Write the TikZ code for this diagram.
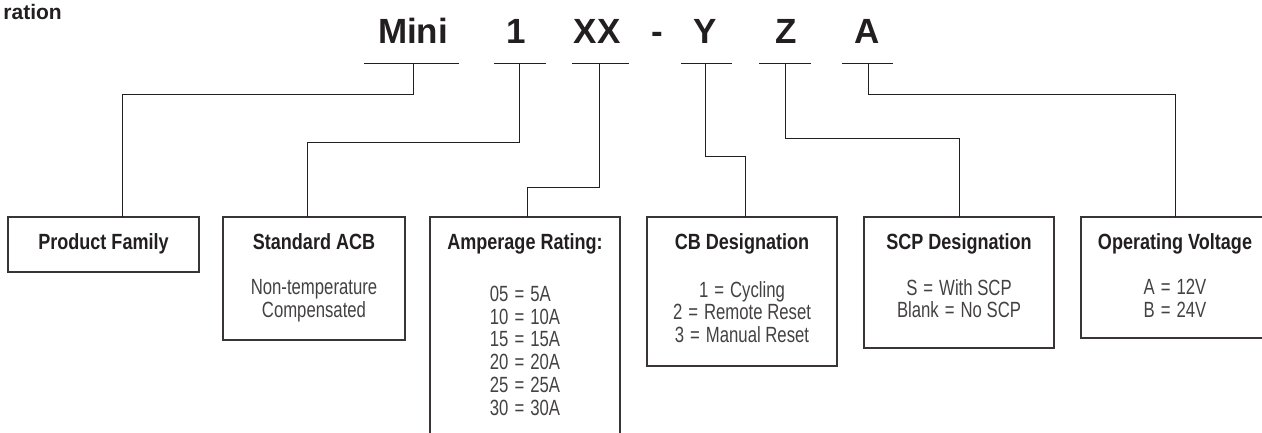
\documentclass[tikz,border=0pt]{standalone}
\usepackage{fontspec}
\setmainfont{Liberation Sans}
\newfontfamily\condfont[FakeStretch=0.76]{Liberation Sans}
\newfontfamily\condhead[FakeStretch=0.82]{Liberation Sans}
\usetikzlibrary{calc}
\definecolor{ink}{HTML}{231F20}
\newcommand{\eqsign}{\hspace{6pt}=\hspace{6pt}}

\tikzset{
  wire/.style={ink, line width=1pt},
  code/.style={font=\fontsize{35}{35}\selectfont\bfseries, text=ink, anchor=base, inner sep=0pt},
  box/.style={draw=ink!90, line width=1.2pt, anchor=north west, inner sep=0pt, outer sep=0pt},
  head/.style={font=\condhead\bfseries\fontsize{22}{22.7}\selectfont, text=ink, anchor=base, inner sep=0pt},
  body/.style={font=\condfont\fontsize{22}{22.7}\selectfont, text=ink!85, anchor=north, align=center, inner sep=0pt},
}

\begin{document}
\begin{tikzpicture}[x=1pt, y=-1pt]
\useasboundingbox (0,0) rectangle (1262,432);

\node[font=\fontsize{21}{21}\selectfont\bfseries, text=ink, anchor=base east, inner sep=0pt] (title) at (62,19.5) {ration};

\node[code] (cMini) at (413,43) {Mini};
\node[code] (cOne) at (516,43) {1};
\node[code] (cXX) at (597,43) {XX};
\node[code] (cDash) at (657,43) {-};
\node[code] (cY) at (705,43) {Y};
\node[code] (cZ) at (786,43) {Z};
\node[code] (cA) at (867,43) {A};

\foreach \n/\x/\a/\b in {uMini/413/364/459, uOne/519.5/494/546, uXX/599/572/629, uY/705/681/732, uZ/785/759/811, uA/868/842/893} {
  \draw[wire] (\a,63) -- (\b,63);
  \coordinate (\n) at (\x,63);
}

\node[box, minimum width=191pt, minimum height=55pt] (bFamily) at (8,217) {};
\node[box, minimum width=182pt, minimum height=123pt] (bACB) at (223,217) {};
\node[box, minimum width=190pt, minimum height=240pt] (bAmp) at (430,217) {};
\node[box, minimum width=190pt, minimum height=149pt] (bCB) at (647,217) {};
\node[box, minimum width=190pt, minimum height=131pt] (bSCP) at (864,217) {};
\node[box, minimum width=188pt, minimum height=121pt] (bVolt) at (1081,217) {};

\node[head] (hFamily) at ($(bFamily.north)+(0,32)$) {Product Family};
\node[head] (hACB) at ($(bACB.north)+(0,32)$) {Standard ACB};
\node[head] (hAmp) at ($(bAmp.north)+(0,32)$) {Amperage Rating:};
\node[head] (hCB) at ($(bCB.north)+(0,32)$) {CB Designation};
\node[head] (hSCP) at ($(bSCP.north)+(0,32)$) {SCP Designation};
\node[head] (hVolt) at ($(bVolt.north)+(0,32)$) {Operating Voltage};

\node[body] (lACB) at ($(bACB.north)+(0,62)$) {Non-temperature\\Compensated};
\node[body, align=left] (lAmp) at ($(bAmp.north)+(0,69)$) {05\eqsign 5A\\10\eqsign 10A\\15\eqsign 15A\\20\eqsign 20A\\25\eqsign 25A\\30\eqsign 30A};
\node[body] (lCB) at ($(bCB.north)+(0,64)$) {1\eqsign Cycling\\2\eqsign Remote Reset\\3\eqsign Manual Reset};
\node[body] (lSCP) at ($(bSCP.north)+(0,62)$) {S\eqsign With SCP\\Blank\eqsign No SCP};
\node[body] (lVolt) at ($(bVolt.north)+(0,62)$) {A\eqsign 12V\\B\eqsign 24V};

\foreach \u/\d/\b/\s in {uMini/31/bFamily/18.5, uOne/79/bACB/-7, uXX/124/bAmp/2, uY/93/bCB/3, uZ/75/bSCP/0, uA/31/bVolt/0}
  \draw[wire] (\u) -- ++(0,\d) -| ($(\b.north)+(\s,0)$);
\end{tikzpicture}
\end{document}
